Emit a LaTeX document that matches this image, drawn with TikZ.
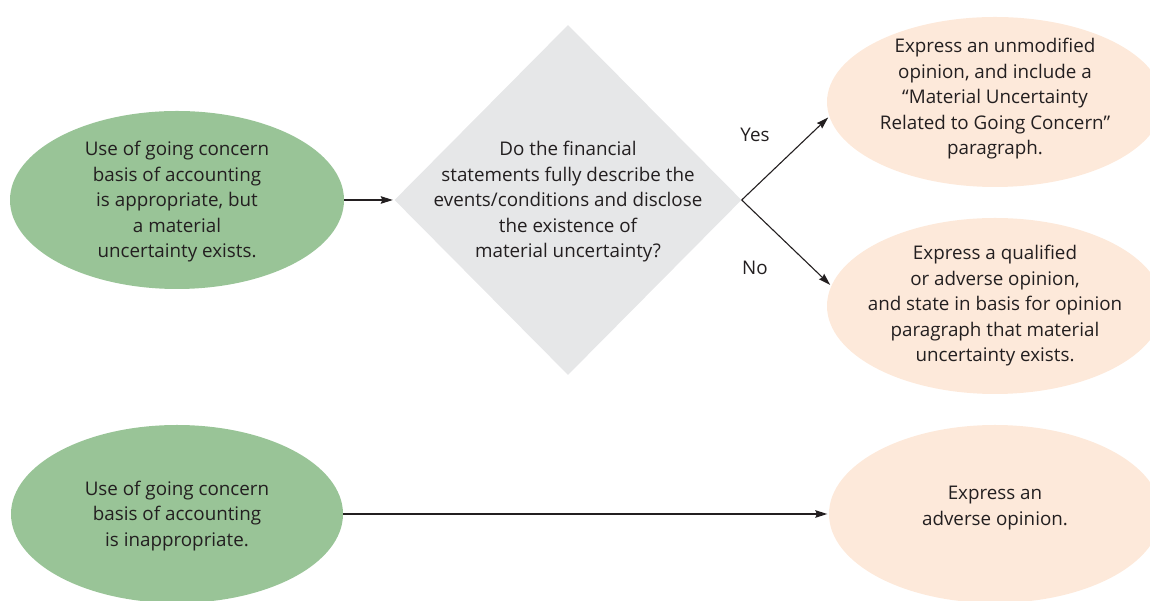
\documentclass[tikz,border=0pt]{standalone}
\usepackage{fontspec}
\setmainfont{Open Sans}
\usetikzlibrary{shapes.geometric,arrows.meta}
\definecolor{greenfill}{RGB}{153,196,151}
\definecolor{peach}{RGB}{253,233,218}
\definecolor{diagray}{RGB}{230,231,232}
\definecolor{txt}{RGB}{35,31,32}
\tikzset{
  shp/.style={inner sep=0pt, draw=none},
  greenell/.style={shp, ellipse, fill=greenfill},
  peachell/.style={shp, ellipse, fill=peach},
  diabox/.style={shp, diamond, fill=diagray},
  lbl/.style={align=center, text=txt, font=\fontsize{18.8}{25.5}\selectfont, inner sep=0pt},
  arr/.style={draw=txt, line width=1.1pt, shorten >=1.5pt, -{Stealth[length=12pt,width=7.5pt,inset=1.5pt]}}
}
\begin{document}
\begin{tikzpicture}[x=1pt,y=1pt]
\useasboundingbox (0,0) rectangle (1150,601);
% shapes
\node[greenell, minimum width=334pt, minimum height=178pt] (g1) at (177,401) {};
\node[diabox, minimum width=347pt, minimum height=350pt] (dia) at (568,401) {};
\node[peachell, minimum width=336pt, minimum height=170pt] (e1) at (995,499) {};
\node[peachell, minimum width=336pt, minimum height=176pt] (e2) at (995,295) {};
\node[greenell, minimum width=332pt, minimum height=178pt] (g2) at (177,87) {};
\node[peachell, minimum width=332pt, minimum height=178pt] (e3) at (995,87) {};
% texts
\node[lbl] (t1) at (177,399) {Use of going concern\\basis of accounting\\is appropriate, but\\a material\\uncertainty exists.};
\node[lbl] (t2) at (568,399) {Do the financial\\statements fully describe the\\events/conditions and disclose\\the existence of\\material uncertainty?};
\node[lbl] (t3) at (995,502) {Express an unmodified\\opinion, and include a\\“Material Uncertainty\\Related to Going Concern”\\paragraph.};
\node[lbl] (t4) at (995,295) {Express a qualified\\or adverse opinion,\\and state in basis for opinion\\paragraph that material\\uncertainty exists.};
\node[lbl] (t5) at (177,85) {Use of going concern\\basis of accounting\\is inappropriate.};
\node[lbl] (t6) at (995,93) {Express an\\adverse opinion.};
\node[lbl] (yes) at (755,466) {Yes};
\node[lbl] (no) at (755,333) {No};
% connectors
\draw[arr] (g1.east) -- (dia.west);
\draw[arr] (dia.east) -- (e1.185);
\draw[arr] (dia.east) -- (e2.173);
\draw[arr] (g2.east) -- (e3.west);
\end{tikzpicture}
\end{document}
